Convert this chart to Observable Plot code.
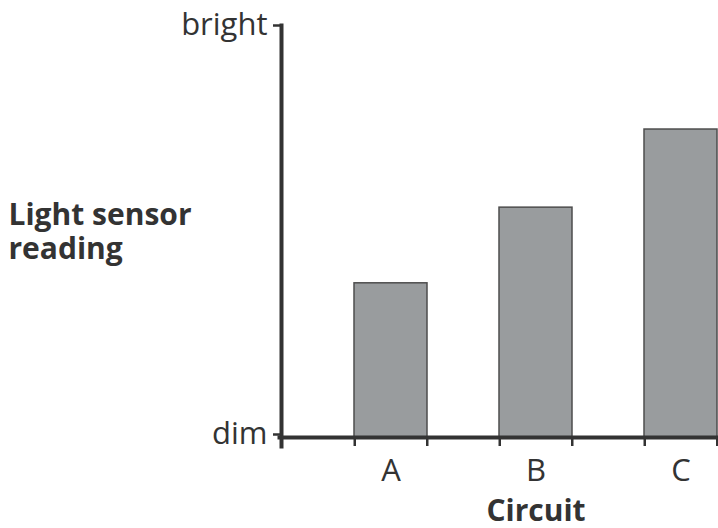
<!DOCTYPE html>
<html><head><meta charset="utf-8">
<script src="https://cdn.jsdelivr.net/npm/d3@7"></script>
<script src="https://cdn.jsdelivr.net/npm/@observablehq/plot@0.6"></script>
<style>body{margin:0;background:#fff}</style>
</head><body><div id="chart"></div>
<script>
const circuits = ["A", "B", "C"];
const readings = [3.77, 5.62, 7.53];
const yTicks = [0, 10];
const yTickLabels = ["dim", "bright"];
const xLabel = "Circuit";
const yLabel = "Light sensor\nreading";

const data = circuits.map((c, i) => ({circuit: c, reading: readings[i]}));
const W = 718, H = 528, ML = 281, MR = 2, MT = 28, MB = 91;
const step = (W - ML - MR) / circuits.length;
const bw = step * 0.5;
const ink = "#333333";

const chart = Plot.plot({
  width: W, height: H,
  marginLeft: ML, marginRight: MR, marginTop: MT, marginBottom: MB,
  style: {fontFamily: "'Open Sans', sans-serif", fontSize: "31px", color: ink, background: "#fff"},
  x: {domain: circuits, paddingInner: 0.5, paddingOuter: 0.25, align: 1},
  y: {domain: [0, 10]},
  marks: [
    Plot.barY(data, {x: "circuit", y: "reading", fill: "#999c9e", stroke: "#4d4d4d", strokeWidth: 1.5}),
    Plot.ruleX(circuits, {x: d => d, dx: -bw / 2, y1: 0, y2: -0.22, stroke: ink, strokeWidth: 2.5}),
    Plot.ruleX(circuits, {x: d => d, dx: bw / 2, y1: 0, y2: -0.22, stroke: ink, strokeWidth: 2.5}),
    Plot.frame({anchor: "left", stroke: ink, strokeWidth: 4, insetTop: -3, insetBottom: -9}),
    Plot.frame({anchor: "bottom", stroke: ink, strokeWidth: 4, insetRight: -2, insetLeft: -2}),
    Plot.axisY({ticks: yTicks, tickFormat: d => yTickLabels[yTicks.indexOf(d)], tickSize: 8, tickPadding: 6, strokeWidth: 2.5, stroke: ink, label: null, dy: -3}),
    Plot.axisX({tickSize: 0, tickPadding: 21, label: null}),
    Plot.text([xLabel], {x: [circuits[1]], frameAnchor: "bottom", dy: 83, fontWeight: "bold", fontSize: 30, fill: ink}),
    Plot.text([yLabel], {frameAnchor: "left", dx: -273, dy: -1.5, textAnchor: "start", fontWeight: "bold", fontSize: 30, lineHeight: 1.12, fill: ink})
  ]
});
document.getElementById("chart").append(chart);
</script>
</body></html>
